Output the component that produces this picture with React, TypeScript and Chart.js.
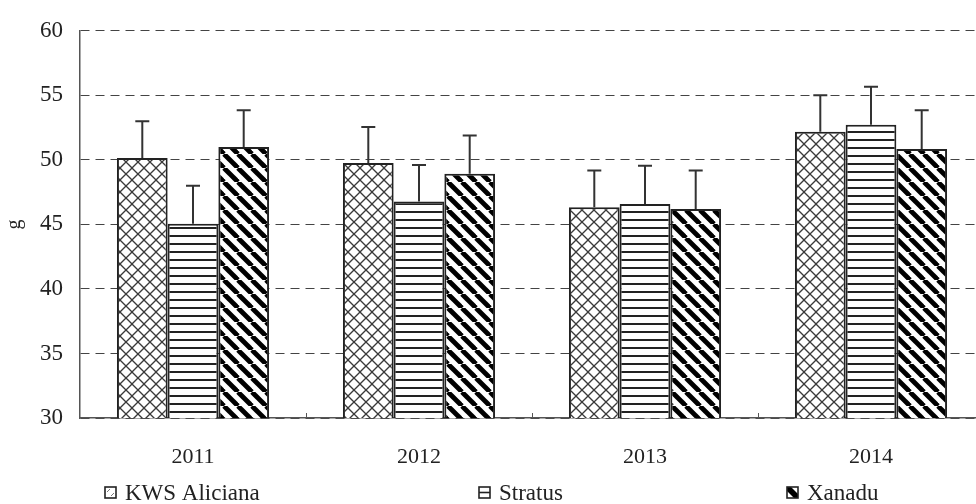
import React, { useEffect, useRef } from "react";
import { Chart, registerables } from "chart.js";

Chart.register(...registerables);

const categories = ["2011", "2012", "2013", "2014"];
const seriesNames = ["KWS Aliciana", "Stratus", "Xanadu"];
const kwsValues = [50.15, 49.75, 46.33, 52.17];
const kwsErrors = [2.85, 2.8, 2.85, 2.83];
const stratusValues = [45.05, 46.77, 46.58, 52.72];
const stratusErrors = [2.95, 2.83, 2.97, 2.95];
const xanaduValues = [51.0, 48.93, 46.2, 50.85];
const xanaduErrors = [2.85, 2.95, 2.98, 3.0];
const yTicks = [30, 35, 40, 45, 50, 55, 60];

const FONT = '"Liberation Serif", "Times New Roman", serif';

function makeCanvas(w: number, h: number) {
  const c = document.createElement("canvas");
  c.width = w;
  c.height = h;
  return c;
}

function crossPattern(ctx: CanvasRenderingContext2D) {
  const s = 12;
  const c = makeCanvas(s, s);
  const g = c.getContext("2d")!;
  g.fillStyle = "#fff";
  g.fillRect(0, 0, s, s);
  g.strokeStyle = "#3a3a3a";
  g.lineWidth = 1.3;
  for (const k of [-1, 0, 1]) {
    g.beginPath();
    g.moveTo(k * s, 0);
    g.lineTo(k * s + s, s);
    g.stroke();
    g.beginPath();
    g.moveTo(k * s + s, 0);
    g.lineTo(k * s, s);
    g.stroke();
  }
  return ctx.createPattern(c, "repeat")!;
}

function hLinePattern(ctx: CanvasRenderingContext2D) {
  const c = makeCanvas(8, 8);
  const g = c.getContext("2d")!;
  g.fillStyle = "#fff";
  g.fillRect(0, 0, 8, 8);
  g.fillStyle = "#222";
  g.fillRect(0, 3, 8, 2);
  return ctx.createPattern(c, "repeat")!;
}

function diagPattern(ctx: CanvasRenderingContext2D) {
  const s = 14;
  const c = makeCanvas(s, s);
  const g = c.getContext("2d")!;
  g.fillStyle = "#fff";
  g.fillRect(0, 0, s, s);
  g.strokeStyle = "#000";
  g.lineWidth = 4.8;
  for (const k of [-1, 0, 1]) {
    g.beginPath();
    g.moveTo(k * s, 0);
    g.lineTo(k * s + s, s);
    g.stroke();
  }
  return ctx.createPattern(c, "repeat")!;
}

const errorsBySeries = [kwsErrors, stratusErrors, xanaduErrors];

const errorBarPlugin = {
  id: "errorBars",
  afterDatasetsDraw(chart: any) {
    const ctx = chart.ctx;
    const yScale = chart.scales.y;
    ctx.save();
    ctx.strokeStyle = "#333";
    ctx.lineWidth = 2;
    chart.data.datasets.forEach((ds: any, di: number) => {
      const meta = chart.getDatasetMeta(di);
      meta.data.forEach((bar: any, i: number) => {
        const v = ds.data[i];
        const e = errorsBySeries[di][i];
        const yTop = yScale.getPixelForValue(v + e);
        const yBar = yScale.getPixelForValue(v);
        ctx.beginPath();
        ctx.moveTo(bar.x, yBar);
        ctx.lineTo(bar.x, yTop);
        ctx.moveTo(bar.x - 7, yTop);
        ctx.lineTo(bar.x + 7, yTop);
        ctx.stroke();
      });
    });
    ctx.restore();
  },
};

const decorPlugin = {
  id: "decor",
  afterDraw(chart: any) {
    const ctx = chart.ctx;
    const x = chart.scales.x;
    const bottom = chart.chartArea.bottom;
    ctx.save();
    ctx.strokeStyle = "#555";
    ctx.lineWidth = 1;
    for (let i = 1; i < categories.length; i++) {
      const px = Math.round((x.getPixelForTick(i - 1) + x.getPixelForTick(i)) / 2) + 0.5;
      ctx.beginPath();
      ctx.moveTo(px, bottom);
      ctx.lineTo(px, bottom - 5);
      ctx.stroke();
    }
    // legend
    const sqX = [105, 479, 787];
    const ly = 494;
    ctx.font = "23px " + FONT;
    ctx.textBaseline = "middle";
    ctx.fillStyle = "#222";
    seriesNames.forEach((name, i) => {
      const sx = sqX[i];
      const sy = ly - 7;
      const s = 11;
      ctx.fillStyle = "#fff";
      ctx.fillRect(sx, sy, s, s);
      ctx.strokeStyle = "#222";
      ctx.lineWidth = 1.6;
      if (i === 0) {
        ctx.strokeStyle = "#777";
        ctx.lineWidth = 1;
        ctx.beginPath();
        ctx.moveTo(sx + 2, sy + 5);
        ctx.lineTo(sx + 5, sy + 2);
        ctx.moveTo(sx + 6, sy + 9);
        ctx.lineTo(sx + 9, sy + 6);
        ctx.stroke();
        ctx.strokeStyle = "#222";
        ctx.lineWidth = 1.6;
      } else if (i === 1) {
        ctx.beginPath();
        ctx.moveTo(sx, sy + s / 2);
        ctx.lineTo(sx + s, sy + s / 2);
        ctx.stroke();
      } else {
        ctx.fillStyle = "#000";
        ctx.beginPath();
        ctx.moveTo(sx, sy);
        ctx.lineTo(sx + 4, sy);
        ctx.lineTo(sx + s, sy + s - 4);
        ctx.lineTo(sx + s, sy + s);
        ctx.lineTo(sx + s - 4, sy + s);
        ctx.lineTo(sx, sy + 4);
        ctx.closePath();
        ctx.fill();
      }
      ctx.strokeRect(sx, sy, s, s);
      ctx.fillStyle = "#222";
      ctx.fillText(name, sx + 20, ly);
    });
    ctx.restore();
  },
};

export default function App() {
  const ref = useRef<HTMLCanvasElement | null>(null);
  useEffect(() => {
    const canvas = ref.current!;
    const ctx = canvas.getContext("2d")!;
    const patterns = [crossPattern(ctx), hLinePattern(ctx), diagPattern(ctx)];
    const values = [kwsValues, stratusValues, xanaduValues];
    const chart = new Chart(canvas, {
      type: "bar",
      data: {
        labels: categories,
        datasets: seriesNames.map((name, i) => ({
          label: name,
          data: values[i],
          backgroundColor: patterns[i],
          borderColor: "#222",
          borderWidth: 2,
          borderSkipped: false,
          categoryPercentage: 0.673,
          barPercentage: 1,
        })),
      },
      options: {
        responsive: false,
        animation: false,
        layout: { padding: { left: 0, right: 16, top: 20, bottom: 0 } },
        plugins: {
          legend: { display: false },
          tooltip: { enabled: false },
        },
        scales: {
          x: {
            grid: { display: true, drawOnChartArea: false, drawTicks: false },
            border: { display: true, color: "#555", width: 1.5 },
            ticks: {
              color: "#222",
              font: { family: FONT, size: 22 },
              padding: 26,
            },
            afterFit(scale: any) {
              scale.height = 86;
            },
          },
          y: {
            min: 30,
            max: 60,
            afterBuildTicks(scale: any) {
              scale.ticks = yTicks.map((v) => ({ value: v }));
            },
            grid: { color: "#444", lineWidth: 1, drawTicks: false },
            border: { display: true, color: "#555", width: 1.5, dash: [9, 6] },
            ticks: {
              color: "#222",
              font: { family: FONT, size: 23 },
              padding: 17,
            },
            title: {
              display: true,
              text: "g",
              color: "#222",
              font: { family: FONT, size: 20 },
              padding: 3,
            },
            afterFit(scale: any) {
              scale.width = 80;
            },
          },
        },
      },
      plugins: [errorBarPlugin, decorPlugin],
    });
    return () => chart.destroy();
  }, []);
  return (
    <div
      style={{
        position: "fixed",
        left: 0,
        top: 0,
        width: 976,
        height: 504,
        overflow: "hidden",
        background: "#fff",
      }}
    >
      <canvas ref={ref} width={1000} height={504} style={{ width: 1000, height: 504, display: "block" }} />
    </div>
  );
}
